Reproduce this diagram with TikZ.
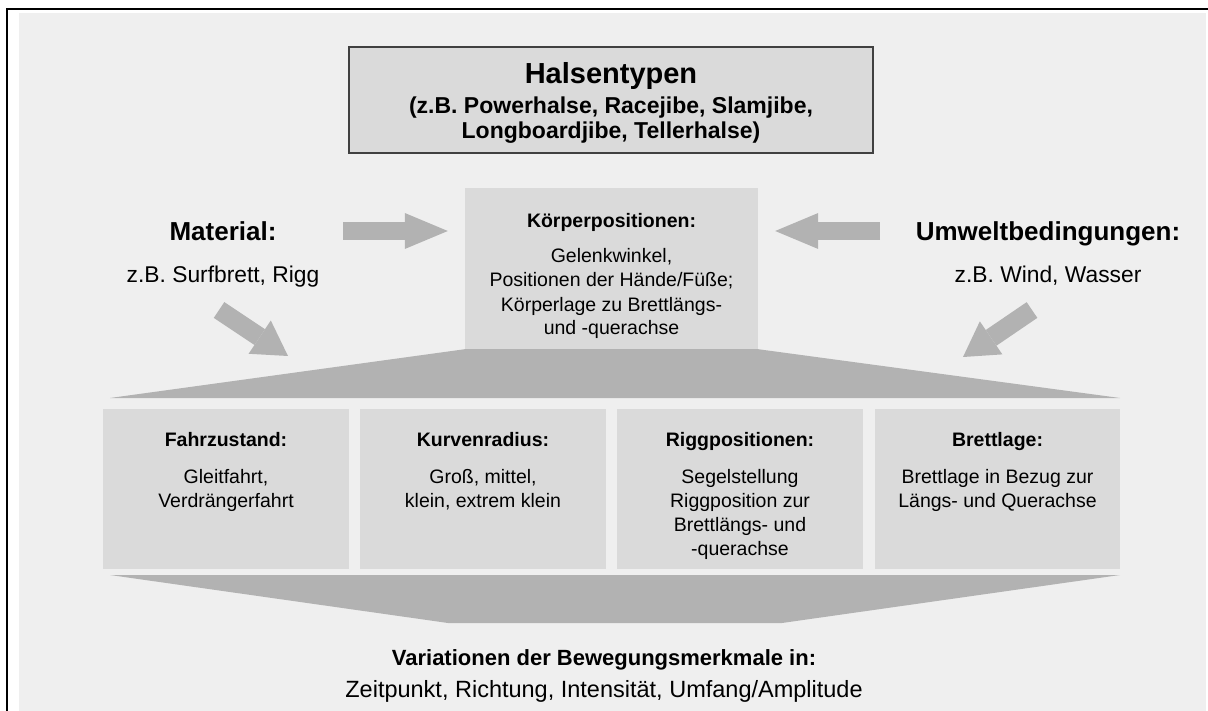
\documentclass[tikz,border=0pt]{standalone}
\usepackage{fontspec}
\setmainfont{Liberation Sans}
\usetikzlibrary{arrows.meta}
\definecolor{bggray}{HTML}{EFEFEF}
\definecolor{boxgray}{HTML}{DADADA}
\definecolor{arrowgray}{HTML}{B2B2B2}
\definecolor{framegray}{HTML}{404040}
\tikzset{
  greybox/.style={fill=boxgray, inner sep=0pt},
  sidehead/.style={font=\bfseries\fontsize{26}{30}\selectfont, anchor=base},
  sidetext/.style={font=\fontsize{22.8}{27}\selectfont, anchor=base},
  boxhead/.style={font=\bfseries\fontsize{19.5}{24}\selectfont, anchor=base},
  boxbody/.style={font=\fontsize{19.5}{24}\selectfont, align=center, anchor=base},
  fatarrow/.style={draw=arrowgray, line width=18pt, -{Triangle[length=43pt,width=36pt,line width=0pt]}},
  diagarrow/.style={draw=arrowgray, line width=19pt, -{Triangle[length=34pt,width=40pt,line width=0pt]}}
}
\begin{document}
\begin{tikzpicture}[x=1pt,y=-1pt]
\useasboundingbox (0,0) rectangle (1208,711);
\fill[bggray] (19,13) rectangle (1206,711);
\draw[line width=2.2pt] (7,711) -- (7,9) -- (1208,9);

% top box
\node[greybox, draw=framegray, line width=1.2pt, minimum width=524pt, minimum height=106pt] (halsen) at (611,100) {};
\node[font=\bfseries\fontsize{29}{34}\selectfont, anchor=base] (halsentitel) at (611,84) {Halsentypen};
\node[font=\bfseries\fontsize{23}{25}\selectfont, align=center, anchor=base] (halsenbsp) at (611,139) {(z.B. Powerhalse, Racejibe, Slamjibe,\\Longboardjibe, Tellerhalse)};

% side labels
\node[sidehead] (material) at (223,241) {Material:};
\node[sidetext] (materialbsp) at (223,283) {z.B. Surfbrett, Rigg};
\node[sidehead] (umwelt) at (1048,241) {Umweltbedingungen:};
\node[sidetext] (umweltbsp) at (1048,283) {z.B. Wind, Wasser};

% middle box
\node[greybox, minimum width=293pt, minimum height=161pt] (koerper) at (611.5,268.5) {};
\node[boxhead] (koerperkopf) at (611.5,228) {Körperpositionen:};
\node[boxbody] (koerpertext) at (611.5,335) {Gelenkwinkel,\\Positionen der Hände/Füße;\\Körperlage zu Brettlängs-\\und -querachse};

\coordinate (matA) at (343,231);
\coordinate (umwA) at (880,231);
\draw[fatarrow, shorten >=17pt] (matA) -- (koerper.west |- matA);
\draw[fatarrow, shorten >=17pt] (umwA) -- (koerper.east |- umwA);
\coordinate (matB) at (219,310);
\coordinate (matC) at (288,356);
\coordinate (umwB) at (1032,310);
\coordinate (umwC) at (963,357);
\draw[diagarrow] (matB) -- (matC);
\draw[diagarrow] (umwB) -- (umwC);

% funnels
\fill[arrowgray] (koerper.south west) -- (koerper.south east) -- (1120,398) -- (110,398) -- cycle;
\fill[arrowgray] (110,575) -- (1120,575) -- (782,623) -- (448,623) -- cycle;

% four boxes
\node[greybox, minimum width=246pt, minimum height=160pt] (fahr) at (226,489) {};
\node[boxhead] (fahrkopf) at (226,446) {Fahrzustand:};
\node[boxbody] (fahrtext) at (226,507) {Gleitfahrt,\\Verdrängerfahrt};
\node[greybox, minimum width=246pt, minimum height=160pt] (kurve) at (483,489) {};
\node[boxhead] (kurvekopf) at (483,446) {Kurvenradius:};
\node[boxbody] (kurvetext) at (483,507) {Groß, mittel,\\klein, extrem klein};
\node[greybox, minimum width=246pt, minimum height=160pt] (rigg) at (740,489) {};
\node[boxhead] (riggkopf) at (740,446) {Riggpositionen:};
\node[boxbody] (riggtext) at (740,555) {Segelstellung\\Riggposition zur\\Brettlängs- und\\-querachse};
\node[greybox, minimum width=245pt, minimum height=160pt] (brett) at (997.5,489) {};
\node[boxhead] (brettkopf) at (997.5,446) {Brettlage:};
\node[boxbody] (bretttext) at (997.5,507) {Brettlage in Bezug zur\\Längs- und Querachse};

% bottom
\node[font=\bfseries\fontsize{22}{26}\selectfont, anchor=base] (variation) at (604,665) {Variationen der Bewegungsmerkmale in:};
\node[font=\fontsize{23.5}{26}\selectfont, anchor=base] (merkmale) at (604,697) {Zeitpunkt, Richtung, Intensität, Umfang/Amplitude};
\end{tikzpicture}
\end{document}
